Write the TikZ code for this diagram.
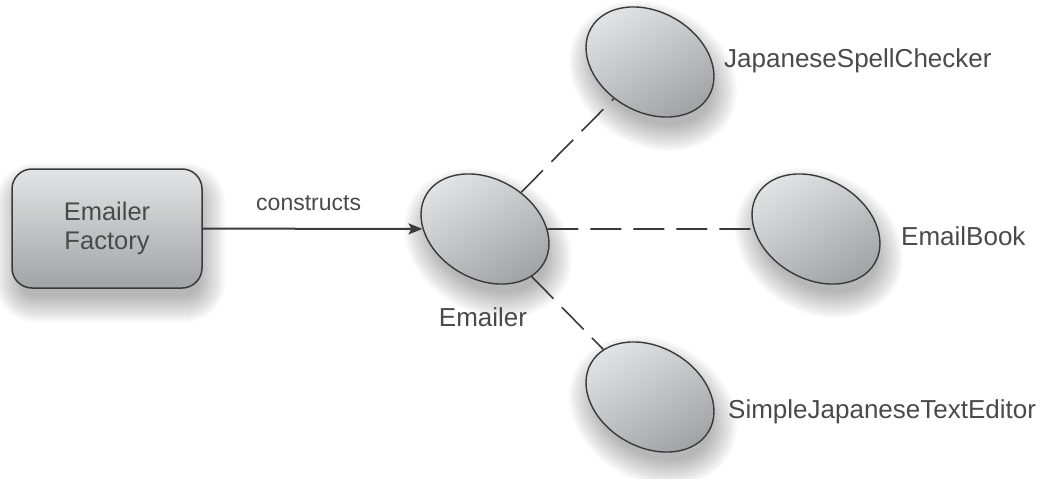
\documentclass[tikz,border=0pt]{standalone}
\usepackage{fontspec}
\setmainfont{Liberation Sans}
\usetikzlibrary{shapes.geometric,arrows.meta}
\definecolor{txt}{HTML}{4A4A4A}
\definecolor{edgec}{HTML}{3A3A3A}
\definecolor{ftop}{HTML}{E3E4E6}
\definecolor{fbot}{HTML}{A2A3A7}
\begin{document}
\begin{tikzpicture}[x=1pt,y=-1pt,
  factorybox/.style={rectangle, rounded corners=20pt, draw=edgec, line width=1.5pt,
    minimum width=190pt, minimum height=119pt, inner sep=0pt,
    top color=ftop, bottom color=fbot, align=center,
    font=\fontsize{25.5}{29}\selectfont, text=txt},
  oval/.style={ellipse, draw=edgec, line width=1.4pt,
    minimum width=136pt, minimum height=100pt, inner sep=0pt, rotate=-30,
    top color=ftop, bottom color=fbot, shading angle=30},
  shadowlayer/.style={fill=black, opacity=0.022},
  lbl/.style={font=\fontsize{26}{30}\selectfont, text=txt, inner sep=0pt},
  dep/.style={draw=edgec, line width=1.6pt, dash pattern=on 31pt off 12pt}
]
\useasboundingbox (0,0) rectangle (1045,479);
% soft shadows
\foreach \k in {-6,-4,...,20}{
  \fill[shadowlayer, rounded corners={20pt+\k pt}] ({15-\k},{183-\k}) rectangle ({205+\k},{302+\k});
}
\foreach \cx/\cy in {485/229, 650/62, 816/229, 650/397}{
  \foreach \k in {-6,-4,...,20}{
    \fill[shadowlayer, rotate around={-30:({\cx+3},{\cy+14})}]
      ({\cx+3},{\cy+14}) ellipse ({68+\k} and {50+\k});
  }
}
\node[factorybox] (fac) at (107,228.5) {Emailer\\Factory};
\node[oval] (em) at (485,229) {};
\node[oval] (jsc) at (650,62) {};
\node[oval] (eb) at (816,229) {};
\node[oval] (sjte) at (650,397) {};

\draw[draw=edgec, line width=2pt, -{Stealth[length=14pt,width=11pt,inset=3pt]}]
  (fac) -- node[midway, anchor=south, yshift=17pt, inner sep=0pt,
    font=\fontsize{23}{27}\selectfont, text=txt, xshift=-4pt] (con) {constructs} (em);

\draw[dep] (em) -- (jsc);
\draw[dep] (em) -- (eb);
\draw[dep] (em) -- (sjte);

\node[lbl, anchor=base] (eml) at (483,326) {Emailer};
\node[lbl, anchor=base west] (jscl) at (724,67) {JapaneseSpellChecker};
\node[lbl, anchor=base west] (ebl) at (901,245) {EmailBook};
\node[lbl, anchor=base west] (sjtel) at (728,418) {SimpleJapaneseTextEditor};
\end{tikzpicture}
\end{document}
